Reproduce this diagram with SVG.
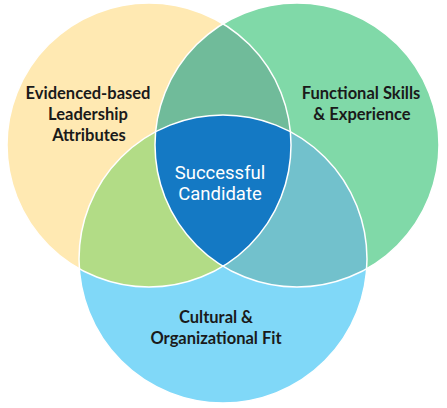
<svg xmlns="http://www.w3.org/2000/svg" width="447" height="408" viewBox="0 0 447 408">
  <style>
    .lbl { font-family: Lato, "Liberation Sans", sans-serif; font-weight: 700; font-size: 16.5px; fill: #1a1a1a; text-anchor: middle; }
    .ctr { font-family: Roboto, "Liberation Sans", sans-serif; font-weight: 400; font-size: 18.5px; fill: #ffffff; text-anchor: middle; }
    .edge { fill: none; stroke: #ffffff; stroke-width: 1.5; }
  </style>
  <defs>
    <circle id="cL" cx="149" cy="145" r="142"/>
    <circle id="cR" cx="297" cy="145" r="142"/>
    <circle id="cB" cx="223" cy="259" r="144"/>
    <clipPath id="clipL"><use href="#cL"/></clipPath>
    <clipPath id="clipR"><use href="#cR"/></clipPath>
    <clipPath id="clipB"><use href="#cB"/></clipPath>
  </defs>
  <g id="leadership">
    <use href="#cL" fill="#FFE9B2"/>
  </g>
  <g id="functional">
    <use href="#cR" fill="#80D9A8"/>
  </g>
  <g id="cultural">
    <use href="#cB" fill="#80D8F8"/>
  </g>
  <g id="overlap-top" clip-path="url(#clipL)">
    <use href="#cR" fill="#70BB9A"/>
  </g>
  <g id="overlap-left" clip-path="url(#clipL)">
    <use href="#cB" fill="#B2DC86"/>
  </g>
  <g id="overlap-right" clip-path="url(#clipR)">
    <use href="#cB" fill="#72C1CC"/>
  </g>
  <g id="center" clip-path="url(#clipL)">
    <g clip-path="url(#clipR)">
      <use href="#cB" fill="#1479C4"/>
    </g>
  </g>
  <g id="outlines">
    <use href="#cL" class="edge"/>
    <use href="#cR" class="edge"/>
    <use href="#cB" class="edge"/>
  </g>
  <g id="labels">
    <text class="lbl" x="88" y="99">Evidenced-based</text>
    <text class="lbl" x="88" y="120">Leadership</text>
    <text class="lbl" x="89" y="141">Attributes</text>
    <text class="lbl" x="361" y="99">Functional Skills</text>
    <text class="lbl" x="362" y="120">&amp; Experience</text>
    <text class="lbl" x="216" y="323">Cultural &amp;</text>
    <text class="lbl" x="216" y="344">Organizational Fit</text>
    <text class="ctr" x="220" y="179">Successful</text>
    <text class="ctr" x="220" y="200">Candidate</text>
  </g>
</svg>
